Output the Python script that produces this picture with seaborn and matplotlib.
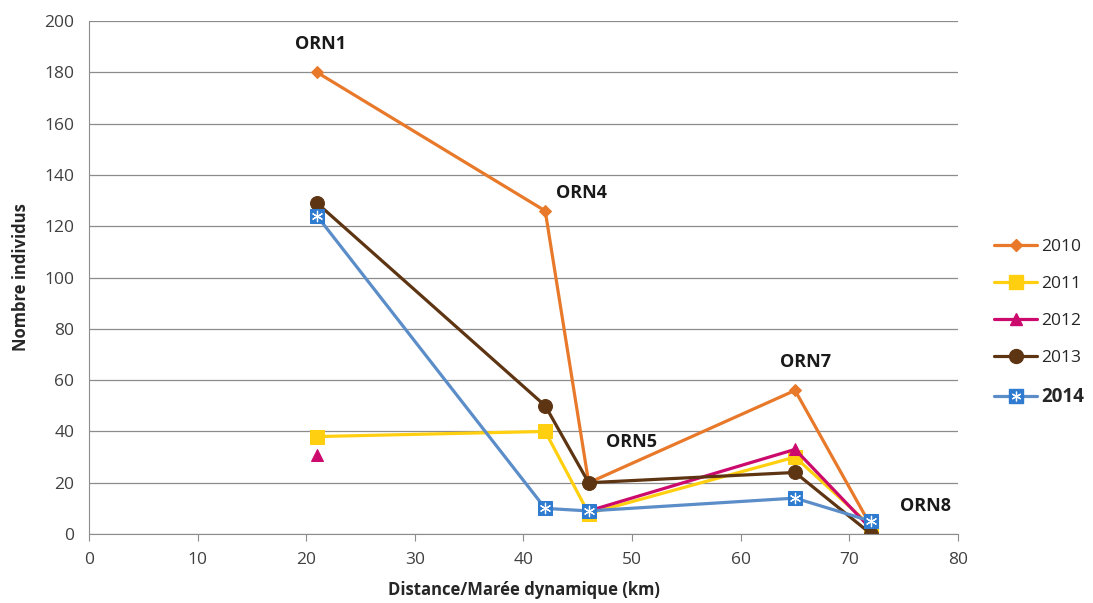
import pandas as pd
import numpy as np
import matplotlib
matplotlib.use("Agg")
import matplotlib.pyplot as plt
import seaborn as sns
from matplotlib.lines import Line2D

# distances (km) des stations ORN
distance = [21, 42, 46, 65, 72]
stations = ['ORN1', 'ORN4', 'ORN5', 'ORN7', 'ORN8']
annee = ['2010', '2011', '2012', '2013', '2014']

ind_2010 = [180, 126, 20, 56, 3]
ind_2011 = [38, 40, 8, 30, 3]
ind_2012 = [31, np.nan, 9, 33, 2]
ind_2013 = [129, 50, 20, 24, 0]
ind_2014 = [124, 10, 9, 14, 5]

# positions des étiquettes de station (unités des données)
label_x = [21.3, 45.3, 49.9, 66.0, 77.0]
label_y = [191, 133, 36, 67, 11]

couleurs = {'2010': '#E8792A', '2011': '#FFCF10', '2012': '#CC0A6E',
            '2013': '#5E3512', '2014': '#5B8DC9'}
marqueurs = {'2010': 'D', '2011': 's', '2012': '^', '2013': 'o', '2014': 's'}
tailles = {'2010': 6, '2011': 9.5, '2012': 9, '2013': 10, '2014': 9.5}

df = pd.DataFrame({'distance': distance, '2010': ind_2010, '2011': ind_2011,
                   '2012': ind_2012, '2013': ind_2013, '2014': ind_2014})
long = df.melt(id_vars='distance', var_name='annee', value_name='individus')

sns.set_style('white')
plt.rcParams['font.family'] = ['Open Sans', 'DejaVu Sans']

fig = plt.figure(figsize=(10.93, 6.03), dpi=100)
ax = fig.add_axes([0.0814, 0.1144, 0.7951, 0.8506])

handles = []
for a in annee:
    sub = long[long['annee'] == a].copy()
    # coupe la ligne là où il manque une valeur
    sub['seg'] = sub['individus'].isna().cumsum()
    sub = sub.dropna()
    face = '#2E7BCF' if a == '2014' else couleurs[a]
    sns.lineplot(data=sub, x='distance', y='individus', units='seg',
                 estimator=None, color=couleurs[a], linewidth=2.3,
                 marker=marqueurs[a], markersize=tailles[a],
                 markerfacecolor=face, markeredgecolor=face, ax=ax,
                 legend=False)
    h = Line2D([], [], color=couleurs[a], linewidth=2.3, marker=marqueurs[a],
               markersize=tailles[a], markerfacecolor=face, markeredgecolor=face)
    if a == '2014':
        sns.scatterplot(data=sub, x='distance', y='individus', marker=(6, 2, 0),
                        s=55, color='white', linewidth=0.9, ax=ax, legend=False,
                        zorder=5)
        h2 = Line2D([], [], linestyle='none', marker=(6, 2, 0), markersize=7,
                    color='white', markeredgewidth=0.9)
        h = (h, h2)
    handles.append(h)

for s, lx, ly in zip(stations, label_x, label_y):
    ax.text(lx, ly, s, fontsize=13, fontweight='bold', ha='center',
            va='center', color='#1a1a1a')

ax.set_xlim(0, 80)
ax.set_ylim(0, 200)
ax.set_xticks(range(0, 81, 10))
ax.set_yticks(range(0, 201, 20))
ax.yaxis.grid(True, color='#8c8c8c', linewidth=0.9)
ax.xaxis.grid(False)
ax.set_axisbelow(True)
for sp in ['top', 'right']:
    ax.spines[sp].set_visible(False)
for sp in ['left', 'bottom']:
    ax.spines[sp].set_color('#8c8c8c')
ax.tick_params(axis='x', bottom=True, direction='out', length=5,
               color='#8c8c8c', labelsize=12.5, labelcolor='#404040', pad=8)
ax.tick_params(axis='y', left=False, labelsize=12.5, labelcolor='#404040', pad=7)

ax.set_xlabel('Distance/Marée dynamique (km)', fontsize=12, fontweight='bold',
              labelpad=9)
ax.set_ylabel('Nombre individus', fontsize=12, fontweight='bold', labelpad=10)

leg = fig.legend(handles, annee, loc='center left', bbox_to_anchor=(0.895, 0.464),
                 frameon=False, fontsize=12.5, labelspacing=1.2,
                 handlelength=2.5, handletextpad=0.25)
texts = leg.get_texts()
texts[-1].set_fontweight('bold')
texts[-1].set_fontsize(13.5)

fig.savefig('out.png', dpi=100)
